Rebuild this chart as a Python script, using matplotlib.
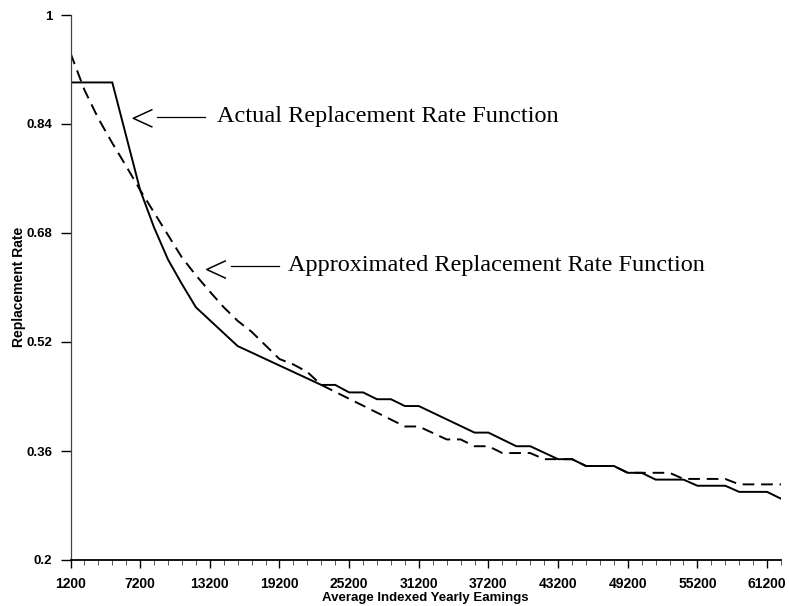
import matplotlib
matplotlib.use("Agg")
import matplotlib.pyplot as plt
from matplotlib.lines import Line2D
from matplotlib.ticker import MultipleLocator, FixedLocator

# ---------------------------------------------------------------- #
# data
# ---------------------------------------------------------------- #

earnings_actual = [1200, 4800, 7200, 8400, 9600, 10800, 12000, 13200, 14400, 15600,
                   22800, 24000, 25200, 26400, 27600, 28800, 30000, 31200,
                   36000, 37200, 39600, 40800, 43200, 44400, 45600, 48000,
                   49200, 50400, 51600, 54000, 55200, 57600, 58800, 61200, 62400]
rate_actual = [0.901, 0.901, 0.743, 0.688, 0.641, 0.605, 0.571, 0.552, 0.533, 0.514,
               0.457, 0.457, 0.446, 0.446, 0.436, 0.436, 0.426, 0.426,
               0.387, 0.387, 0.367, 0.367, 0.348, 0.348, 0.338, 0.338,
               0.328, 0.328, 0.318, 0.318, 0.309, 0.309, 0.300, 0.300, 0.290]

earnings_approx = [1200, 2400, 3600, 4800, 6000, 7200, 8400, 9600, 10800, 12000,
                   13200, 14400, 15600, 16800, 18000, 19200, 20400, 21600, 22800,
                   30000, 31200, 33600, 34800, 36000, 37200, 38400, 40800, 42000, 43200,
                   44400, 45600, 48000, 49200, 50400, 52800, 54000, 55200, 57600, 58800,
                   62400]
rate_approx = [0.944, 0.890, 0.848, 0.812, 0.778, 0.743, 0.710, 0.677, 0.644, 0.618,
               0.594, 0.571, 0.551, 0.535, 0.515, 0.495, 0.487, 0.476, 0.457,
               0.396, 0.396, 0.377, 0.377, 0.367, 0.367, 0.357, 0.357, 0.348, 0.348,
               0.348, 0.338, 0.338, 0.328, 0.328, 0.328, 0.319, 0.319, 0.319, 0.311,
               0.311]

x_ticks = [1200, 7200, 13200, 19200, 25200, 31200, 37200, 43200, 49200, 55200, 61200]
y_ticks = [0.2, 0.36, 0.52, 0.68, 0.84, 1.0]
y_tick_labels = ["0.2", "0.36", "0.52", "0.68", "0.84", "1"]

label_actual = "Actual Replacement Rate Function"
label_approx = "Approximated Replacement Rate Function"

# ---------------------------------------------------------------- #

W, H = 789, 606
fig = plt.figure(figsize=(W / 100, H / 100), dpi=100)
ax = fig.add_axes([70.5 / W, 1 - 560 / H, (781 - 70.5) / W, (560 - 15) / H])


def px(x, y):
    # pixel position in the picture -> figure fraction
    return x / W, 1 - y / H


ax.plot(earnings_actual, rate_actual, color="black", lw=1.4, solid_joinstyle="miter")
ax.plot(earnings_approx, rate_approx, color="black", lw=1.4, dashes=(6, 3.5))

ax.set_xlim(1200, 62400)
ax.set_ylim(0.2, 1.0)

for side in ["top", "right"]:
    ax.spines[side].set_visible(False)
ax.spines["left"].set_color("#444444")
ax.spines["left"].set_linewidth(0.9)
ax.spines["bottom"].set_linewidth(1.3)

ax.xaxis.set_major_locator(FixedLocator(x_ticks))
ax.xaxis.set_minor_locator(MultipleLocator(1200))
ax.set_xticklabels([str(v) for v in x_ticks])
ax.set_yticks(y_ticks)
ax.set_yticklabels(y_tick_labels)

ax.tick_params(axis="y", length=7, width=1, pad=6, labelsize=9.5)
ax.tick_params(axis="x", which="major", length=6, width=1, pad=6, labelsize=10)
ax.tick_params(axis="x", which="minor", length=3.5, width=0.7, color="#555555")
for lab in ax.get_xticklabels() + ax.get_yticklabels():
    lab.set_fontfamily("Liberation Sans")
    lab.set_fontweight("bold")

ax.set_xlabel("Average Indexed Yearly Eamings", fontsize=9.5, fontweight="bold",
              family="Liberation Sans", labelpad=1)
fig.text(*px(19, 287), "Replacement Rate", rotation=90, fontsize=10, fontweight="bold",
         family="Liberation Sans", ha="center", va="center")

# annotations: "<" arrow head, a short rule and the serif caption
for tip, rule_y, base_y, text_x, caption in [((133.3, 118.3), 116.5, 121.7, 216.7, label_actual),
                                             ((206.7, 269.5), 266.0, 271.5, 288.3, label_approx)]:
    tx, ty = tip
    xs = [tx + 18.5, tx, tx + 18.5]
    ys = [ty - 8.5, ty, ty + 8.5]
    fig.add_artist(Line2D([x / W for x in xs], [1 - y / H for y in ys],
                          transform=fig.transFigure, color="black", lw=1.1))
    fig.add_artist(Line2D([(tx + 24) / W, (tx + 72) / W], [1 - rule_y / H] * 2,
                          transform=fig.transFigure, color="black", lw=0.9))
    fig.text(*px(text_x, base_y), caption, fontsize=17.5, family="Liberation Serif",
             ha="left", va="baseline")

fig.savefig("out.png", dpi=100)
